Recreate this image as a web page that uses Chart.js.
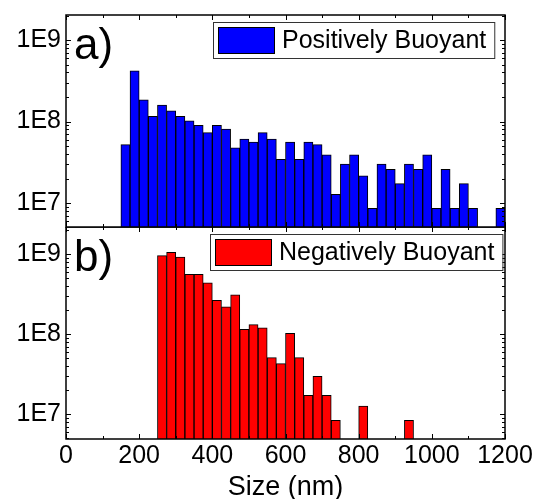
<!DOCTYPE html>
<html>
<head>
<meta charset="utf-8">
<script src="https://cdn.jsdelivr.net/npm/chart.js@4.4.0/dist/chart.umd.min.js"></script>
<style>
  html, body { margin: 0; padding: 0; background: #fff; overflow: hidden; }
  #wrap { position: relative; width: 536px; height: 499px; overflow: hidden; }
  canvas { position: absolute; left: 0; }
  #chartA { top: 0; }
  #chartB { top: 227px; }
</style>
</head>
<body>
<div id="wrap">
  <canvas id="chartA" width="536" height="228"></canvas>
  <canvas id="chartB" width="536" height="277"></canvas>
</div>
<script>
// histogram bins, 25 nm wide (start of each bin)
const binStarts = [0, 25, 50, 75, 100, 125, 150, 175, 200, 225, 250, 275, 300, 325, 350, 375,
  400, 425, 450, 475, 500, 525, 550, 575, 600, 625, 650, 675, 700, 725, 750, 775,
  800, 825, 850, 875, 900, 925, 950, 975, 1000, 1025, 1050, 1075, 1100, 1125, 1150, 1175];

const positiveCounts = [null, null, null, null, null, null,
  5.2e7, 4.2e8, 1.85e8, 1.16e8, 1.59e8, 1.35e8, 1.16e8, 1.02e8, 9.0e7, 7.3e7,
  9.0e7, 8.1e7, 4.75e7, 6.1e7, 5.6e7, 7.3e7, 6.1e7, 3.45e7, 5.6e7, 3.45e7, 5.6e7, 5.2e7, 3.9e7, 1.28e7, 3.0e7, 3.9e7,
  2.15e7, 8.6e6, 3.0e7, 2.6e7, 1.73e7, 3.0e7, 2.6e7, 3.9e7, 8.6e6, 2.6e7, 8.6e6, 1.73e7, 8.6e6, null, null, 8.6e6];

const negativeCounts = [null, null, null, null, null, null, null, null, null, null,
  9.6e8, 1.06e9, 9.2e8, 5.6e8, 5.6e8, 4.4e8,
  2.65e8, 2.2e8, 3.1e8, 1.15e8, 1.32e8, 1.2e8, 5.1e7, 4.3e7, 1.03e8, 5.1e7, 1.72e7, 2.97e7, 1.72e7, 8.4e6, null, null,
  1.27e7, null, null, null, null, 8.4e6, null, null, null, null, null, null, null, null, null, null];

const sizeTicks = [0, 200, 400, 600, 800, 1000, 1200];
const yTickValues = [1e7, 1e8, 1e9];
const yTickLabels = ['1E7', '1E8', '1E9'];

const FONT = '"Liberation Sans", Arial, sans-serif';
Chart.defaults.font.family = FONT;
Chart.defaults.color = '#000';

// frame, inward ticks, panel tag and boxed legend
const framePlugin = {
  id: 'frame',
  afterDatasetsDraw(chart, args, opts) {
    const ctx = chart.ctx;
    const a = chart.chartArea;
    const xs = chart.scales.xs;
    const y = chart.scales.y;
    ctx.save();
    ctx.strokeStyle = '#000';
    ctx.lineWidth = 1;
    const seg = (x1, y1, x2, y2) => { ctx.beginPath(); ctx.moveTo(x1, y1); ctx.lineTo(x2, y2); ctx.stroke(); };

    for (let v = 0; v <= 1200; v += 100) {
      const px = Math.round(xs.getPixelForValue(v)) + 0.5;
      const len = v % 200 === 0 ? 5 : 3;
      seg(px, a.top, px, a.top + len);
      seg(px, a.bottom, px, a.bottom - len);
    }
    for (let e = 6; e <= 9; e++) {
      for (let m = 1; m <= 9; m++) {
        const v = m * Math.pow(10, e);
        if (v < y.min || v > y.max) continue;
        const py = Math.round(y.getPixelForValue(v)) + 0.5;
        const len = m === 1 ? 5 : 3;
        seg(a.left, py, a.left + len, py);
        seg(a.right, py, a.right - len, py);
      }
    }

    ctx.lineWidth = 1.5;
    ctx.strokeRect(a.left, a.top, a.right - a.left, a.bottom - a.top);

    // panel tag
    ctx.fillStyle = '#000';
    ctx.font = '44px ' + FONT;
    ctx.textBaseline = 'alphabetic';
    ctx.textAlign = 'left';
    ctx.fillText(opts.tag, a.left + 8, a.top + 44);

    // legend
    ctx.font = '25px ' + FONT;
    const tw = ctx.measureText(opts.label).width;
    const bx = a.left + opts.boxLeft, by = a.top + 7;
    const bw = 5 + 56 + 8 + tw + 8, bh = 36;
    ctx.lineWidth = 1;
    ctx.fillStyle = '#fff';
    ctx.fillRect(bx, by, bw, bh);
    ctx.strokeStyle = '#333';
    ctx.strokeRect(bx + 0.5, by + 0.5, bw, bh);
    ctx.fillStyle = opts.color;
    ctx.fillRect(bx + 5, by + 5, 56, 26);
    ctx.strokeStyle = '#000';
    ctx.strokeRect(bx + 5.5, by + 5.5, 56, 26);
    ctx.fillStyle = '#000';
    ctx.textBaseline = 'middle';
    ctx.fillText(opts.label, bx + 69, by + bh / 2 + 1);
    ctx.restore();
  }
};

function makePanel(canvasId, counts, color, yMin, yMax, showX, padding, frame) {
  return new Chart(document.getElementById(canvasId), {
    type: 'bar',
    data: {
      labels: binStarts,
      datasets: [{
        data: counts,
        backgroundColor: color,
        borderColor: '#000',
        borderWidth: 1,
        barPercentage: 1,
        categoryPercentage: 1
      }]
    },
    options: {
      responsive: false,
      animation: false,
      devicePixelRatio: 1,
      layout: { padding: padding },
      plugins: { legend: { display: false }, tooltip: { enabled: false }, frame: frame },
      scales: {
        x: { type: 'category', display: false, offset: true },
        xs: {
          type: 'linear',
          position: 'bottom',
          display: showX,
          offset: false,
          min: 0,
          max: 1200,
          afterBuildTicks: s => { s.ticks = sizeTicks.map(v => ({ value: v })); },
          grid: { display: false, drawTicks: false, offset: false },
          border: { display: false },
          ticks: { callback: v => String(v), font: { size: 25 }, padding: 2, color: '#000', maxRotation: 0, autoSkip: false },
          title: { display: true, text: 'Size (nm)', font: { size: 27 }, color: '#000', padding: { top: 0, bottom: 0 } },
          afterFit: s => {
            if (showX) s.height = 65;
            s.paddingLeft = 0;
            s.paddingRight = 0;
          }
        },
        y: {
          type: 'logarithmic',
          min: yMin,
          max: yMax,
          afterBuildTicks: s => { s.ticks = yTickValues.map(v => ({ value: v })); },
          grid: { display: false, drawTicks: false },
          border: { display: false },
          ticks: { callback: (v, i) => yTickLabels[i], font: { size: 25 }, padding: 5, color: '#000' },
          afterFit: s => { s.width = 66; s.paddingTop = 0; s.paddingBottom = 0; }
        }
      }
    },
    plugins: [framePlugin]
  });
}

makePanel('chartA', positiveCounts, '#0000ff', 5.08e6, 2.03e9, false,
  { left: 0, right: 31, top: 15, bottom: 1 },
  { tag: 'a)', label: 'Positively Buoyant', color: '#0000ff', boxLeft: 147 });

makePanel('chartB', negativeCounts, '#ff0000', 4.91e6, 2.19e9, true,
  { left: 0, right: 31, top: 0, bottom: 0 },
  { tag: 'b)', label: 'Negatively Buoyant', color: '#ff0000', boxLeft: 144 });
</script>
</body>
</html>
